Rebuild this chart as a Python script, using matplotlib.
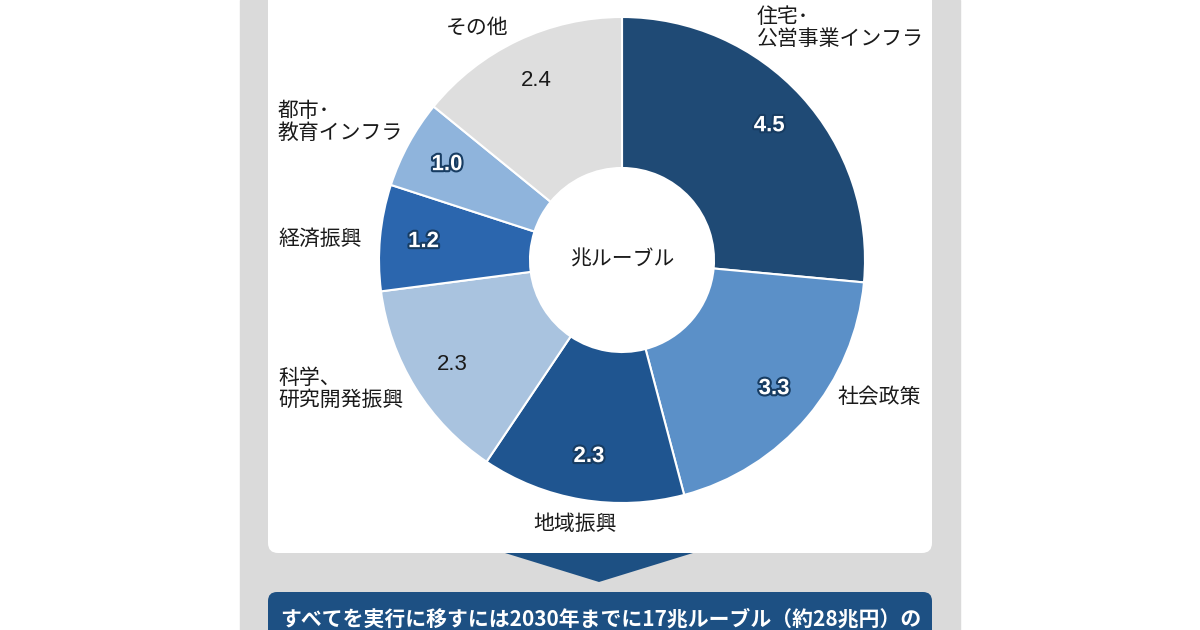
import numpy as np
import matplotlib
matplotlib.use('Agg')
import matplotlib.pyplot as plt
import matplotlib.patheffects as pe
from matplotlib.patches import Rectangle, FancyBboxPatch, Polygon

plt.rcParams['font.family'] = ['Noto Sans CJK JP', 'DejaVu Sans']

# data (trillion rubles)
categories = ['住宅･\n公営事業インフラ', '社会政策', '地域振興', '科学、\n研究開発振興',
              '経済振興', '都市･\n教育インフラ', 'その他']
values = [4.5, 3.3, 2.3, 2.3, 1.2, 1.0, 2.4]
value_labels = ['4.5', '3.3', '2.3', '2.3', '1.2', '1.0', '2.4']
center_label = '兆ルーブル'
footer = 'すべてを実行に移すには2030年までに17兆ルーブル（約28兆円）の'

# style
colors = ['#1f4a75', '#5b90c8', '#1f5590', '#a9c3df', '#2b66ae', '#8fb4dc', '#dedede']
white_value = [True, True, True, False, True, True, False]
# label anchors in pixel coordinates (x, y from top, ha)
label_layout = [(757, 28, 'left'), (838, 397, 'left'), (575, 524, 'center'),
                (278, 389, 'left'), (278, 239, 'left'), (278, 122, 'left'),
                (477, 28, 'center')]

W, H = 1200, 630
fig = plt.figure(figsize=(12, 6.3), dpi=100)
ax = fig.add_axes([0, 0, 1, 1])

# backgrounds
ax.add_patch(Rectangle((240, 0), 720, H, color='#dadada', zorder=0))
ax.add_patch(FancyBboxPatch((268, H - 553), 664, 600, boxstyle='round,pad=0,rounding_size=10',
                            fc='white', ec='none', zorder=1))
ax.add_patch(Polygon([(505, H - 553), (693, H - 553), (599, H - 582)], closed=True,
                     fc='#1d5083', ec='none', zorder=1))
ax.add_patch(FancyBboxPatch((268, -30), 664, H - 592 + 30, boxstyle='round,pad=0,rounding_size=9',
                            fc='#1d5083', ec='none', zorder=1))

cx, cy, r_out, r_in = 622, H - 260, 243, 92
wedges, _ = ax.pie(values, colors=colors, center=(cx, cy), radius=r_out, startangle=90,
                   counterclock=False,
                   wedgeprops=dict(width=r_out - r_in, edgecolor='white', linewidth=1.5))
for w in wedges:
    w.set_zorder(2)

num_font = ['Liberation Sans Narrow', 'Liberation Sans']
total = sum(values)
cum = np.cumsum([0] + values[:-1])
for v, c, lab, white in zip(values, cum, value_labels, white_value):
    ang = np.deg2rad(90 - (c + v / 2) / total * 360)
    x = cx + 0.82 * r_out * np.cos(ang)
    y = cy + 0.82 * r_out * np.sin(ang)
    if white:
        ax.text(x, y, lab, ha='center', va='center', fontsize=16, fontweight='bold',
                color='white', family=num_font, zorder=3,
                path_effects=[pe.withStroke(linewidth=3, foreground='#173c62')])
    else:
        ax.text(x, y, lab, ha='center', va='center', fontsize=16,
                color='#1a1a1a', family=num_font, zorder=3)

for cat, (lx, ly, ha) in zip(categories, label_layout):
    ax.text(lx, H - ly, cat, ha=ha, va='center', fontsize=15, color='#1a1a1a',
            linespacing=0.95, zorder=3)

ax.text(cx, cy, center_label, ha='center', va='center', fontsize=15, color='#1a1a1a', zorder=3)
ax.text(601, H - 619, footer, ha='center', va='center', fontsize=15, fontweight='bold',
        color='white', zorder=3)

ax.set_xlim(0, W)
ax.set_ylim(0, H)
ax.set_aspect('equal')
ax.axis('off')

fig.savefig('out.png', dpi=100, facecolor='white')
